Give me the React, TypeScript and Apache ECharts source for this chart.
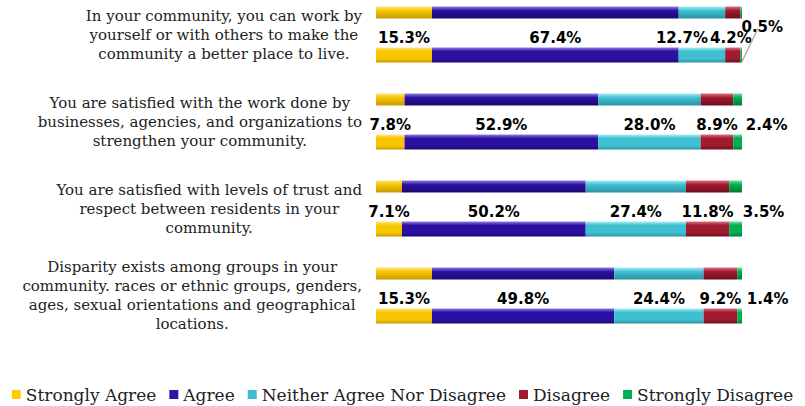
import React, { useEffect, useRef } from "react";
import * as echarts from "echarts";

const categories = [
  "In your community, you can work by\nyourself or with others to make the\ncommunity a better place to live.",
  "You are satisfied with the work done by\nbusinesses, agencies, and organizations to\nstrengthen your community.",
  "You are satisfied with levels of trust and\nrespect between residents in your\ncommunity.",
  "Disparity exists among groups in your\ncommunity. races or ethnic groups, genders,\nages, sexual orientations and geographical\nlocations.",
];

const seriesNames = [
  "Strongly Agree",
  "Agree",
  "Neither Agree Nor Disagree",
  "Disagree",
  "Strongly Disagree",
];

const stronglyAgree = [15.3, 7.8, 7.1, 15.3];
const agree = [67.4, 52.9, 50.2, 49.8];
const neither = [12.7, 28.0, 27.4, 24.4];
const disagree = [4.2, 8.9, 11.8, 9.2];
const stronglyDisagree = [0.5, 2.4, 3.5, 1.4];

const values = [stronglyAgree, agree, neither, disagree, stronglyDisagree];

// colour sets: [light, base, dark]
const colors = [
  ["#FFE680", "#F7C600", "#C99A00"],
  ["#8E7FE0", "#2C10A2", "#1A0870"],
  ["#A8EEF8", "#3FC0D2", "#2A93A3"],
  ["#E07080", "#A01A30", "#6E0E1E"],
  ["#70E0A0", "#00B050", "#007A36"],
];
const legendColors = ["#FFCC00", "#2E15A8", "#3CBCD0", "#A01C30", "#00B050"];

// label nudges (series index -> per category [dx, dy])
const labelNudge: Record<number, number[][]> = {
  2: [[-20, 0], [0, 0], [0, 0], [0, 0]],
  3: [[-2, 0], [0, 0], [0, 0], [0, 0]],
  4: [[21, -11], [29, 0], [28, 0], [28, 0]],
};

function grad(c: string[], top: boolean) {
  return new echarts.graphic.LinearGradient(0, 0, 0, 1, top
    ? [
        { offset: 0, color: c[0] },
        { offset: 0.35, color: c[1] },
        { offset: 1, color: c[2] },
      ]
    : [
        { offset: 0, color: c[0] },
        { offset: 0.25, color: c[1] },
        { offset: 0.75, color: c[1] },
        { offset: 1, color: c[2] },
      ]);
}

export default function App() {
  const ref = useRef<HTMLDivElement>(null);
  useEffect(() => {
    if (!ref.current) return;
    const chart = echarts.init(ref.current, null, { renderer: "svg" });
    const series: any[] = [];
    seriesNames.forEach((name, si) => {
      series.push({
        name,
        type: "bar",
        stack: "top",
        barWidth: 12,
        barGap: "242%",
        itemStyle: { color: grad(colors[si], true) },
        data: values[si],
        silent: true,
      });
    });
    seriesNames.forEach((name, si) => {
      const nudge = labelNudge[si];
      series.push({
        name,
        type: "bar",
        stack: "bottom",
        barWidth: 15,
        itemStyle: { color: grad(colors[si], false) },
        label: {
          show: true,
          position: "top",
          distance: 2,
          formatter: (p: any) => Number(p.value).toFixed(1) + "%",
          fontFamily: "DejaVu Sans",
          fontWeight: "bold",
          fontSize: 15,
          color: "#000",
        },
        labelLayout: nudge
          ? (p: any) => {
              const [dx, dy] = nudge[p.dataIndex];
              return { dx, dy };
            }
          : undefined,
        data: values[si],
        silent: true,
      });
    });

    // leader line for the moved 0.5% label (first category)
    const firstTotal = Math.min(
      100,
      values.reduce((s, arr) => s + arr[0], 0)
    );
    series.push({
      type: "custom",
      name: "leader",
      silent: true,
      z: 3,
      data: [[firstTotal, 0]],
      renderItem: (params: any, api: any) => {
        const p = api.coord([api.value(0), api.value(1)]);
        return {
          type: "line",
          shape: { x1: p[0] + 16, y1: p[1] - 6, x2: p[0], y2: p[1] + 27 },
          style: { stroke: "#A8A8A8", lineWidth: 1.3 },
        };
      },
    });

    chart.setOption({
      animation: false,
      grid: { left: 376, right: 63, top: 0, bottom: 67 },
      xAxis: { type: "value", min: 0, max: 100, show: false },
      yAxis: {
        type: "category",
        inverse: true,
        data: categories,
        axisLine: { show: false },
        axisTick: { show: false },
        axisLabel: {
          align: "right",
          margin: 14,
          formatter: (v: string) =>
            v
              .split("\n")
              .map((l) => "{c|" + l + "}")
              .join("\n"),
          rich: {
            c: {
              align: "center",
              fontFamily: "DejaVu Serif",
              fontSize: 15,
              lineHeight: 19,
              color: "#222",
            },
          },
        },
      },
      legend: {
        top: 390,
        left: "center",
        icon: "rect",
        itemWidth: 9,
        itemHeight: 9,
        itemGap: 13,
        textStyle: { fontFamily: "DejaVu Serif", fontSize: 17, color: "#222" },
        data: seriesNames.map((n, i) => ({ name: n, itemStyle: { color: legendColors[i] } })),
      },
      series,
    });
    return () => chart.dispose();
  }, []);
  return (
    <div
      ref={ref}
      style={{ position: "absolute", left: 0, top: -9, width: 805, height: 415 }}
    />
  );
}
